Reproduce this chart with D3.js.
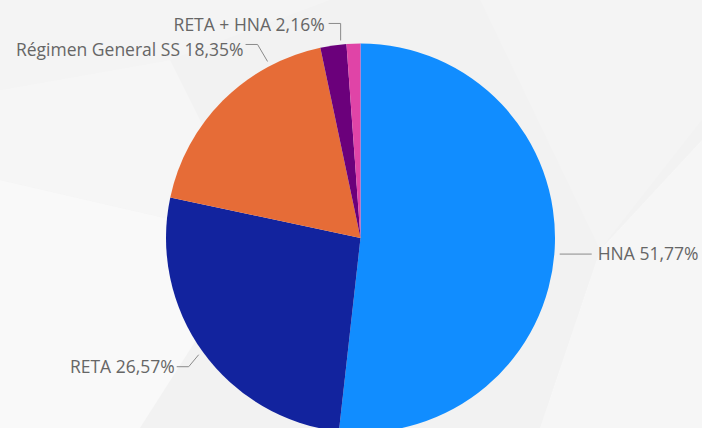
<!DOCTYPE html>
<html><head><meta charset="utf-8">
<script src="https://cdn.jsdelivr.net/npm/d3@7"></script>
<style>html,body{margin:0;padding:0;background:#f2f2f2;overflow:hidden}</style>
</head><body>
<svg id="c" width="702" height="428"></svg>
<script>
const categories = ["HNA", "RETA", "Régimen General SS", "RETA + HNA", "Otros"];
const values = [51.77, 26.57, 18.35, 2.16, 1.15];
const labelTexts = ["HNA 51,77%", "RETA 26,57%", "Régimen General SS 18,35%", "RETA + HNA 2,16%", ""];
const colors = ["#118DFF", "#12239E", "#E66C37", "#6B007B", "#E044A7"];

const W = 702, H = 428;
const svg = d3.select("#c");

// background facets (subtle)
const bg = svg.append("g");
bg.append("rect").attr("width", W).attr("height", H).attr("fill", "#f2f2f2");
const facets = [
  [[0,0],[330,0],[170,60],[0,90]],
  [[0,180],[260,240],[140,428],[0,428]],
  [[480,0],[702,0],[702,120],[600,250]],
  [[600,250],[702,140],[702,428],[540,428]],
  [[0,90],[170,60],[260,240],[0,180]]
];
const fop = [0.2, 0.5, 0.15, 0.35, 0.3];
facets.forEach((p,i)=>bg.append("polygon").attr("points", p.map(q=>q.join(",")).join(" "))
  .attr("fill", "#ffffff").attr("opacity", fop[i]));

const cx = 360.5, cy = 238, r = 194.5;
const pie = d3.pie().sort(null).value(d => d.v);
const data = categories.map((c,i)=>({c, v: values[i], t: labelTexts[i], col: colors[i]}));
const arcs = pie(data);
const arc = d3.arc().innerRadius(0).outerRadius(r);
const g = svg.append("g").attr("transform", `translate(${cx},${cy})`);
g.selectAll("path").data(arcs).join("path").attr("d", arc).attr("fill", d => d.data.col);

// labels
const anchorFrac = [0.5, 0.5, 0.76, 0.5, 0.5];
const font = "'Open Sans', 'Noto Sans', sans-serif";
const lg = svg.append("g");
function pt(a, rr){ return [cx + rr*Math.sin(a), cy - rr*Math.cos(a)]; }
arcs.forEach((d,i)=>{
  if(!d.data.t) return;
  const a = d.startAngle + (d.endAngle - d.startAngle)*anchorFrac[i];
  const p0 = pt(a, r + 5);
  let pts, tx, ty, anchor;
  if (i === 0) { // right
    const y = p0[1] + 5;
    pts = [[p0[0], y], [p0[0] + 32, y]];
    tx = p0[0] + 38; ty = y; anchor = "start";
  } else if (i === 1) { // lower-left
    const p1 = [p0[0] - 10, p0[1] + 12];
    pts = [p0, p1, [p1[0] - 12, p1[1]]];
    tx = p1[0] - 14; ty = p1[1]; anchor = "end";
  } else if (i === 2) {
    const p1 = [p0[0] - 10, p0[1] - 17];
    pts = [p0, p1, [p1[0] - 12, p1[1]]];
    tx = p1[0] - 14; ty = p1[1] + 5; anchor = "end";
  } else if (i === 3) {
    const p1 = [p0[0] + 8, p0[1] - 17];
    pts = [[p1[0], p0[1]], p1, [p1[0] - 12, p1[1]]];
    tx = p1[0] - 16; ty = p1[1] + 1; anchor = "end";
  }
  lg.append("polyline").attr("points", pts.map(q=>q.join(",")).join(" "))
    .attr("fill", "none").attr("stroke", "#8a8a8a").attr("stroke-width", 1);
  lg.append("text").attr("x", tx).attr("y", ty).attr("dy", "0.35em")
    .attr("text-anchor", anchor).attr("font-family", font).attr("font-size", 17.5)
    .attr("fill", "#666666").text(d.data.t);
});
</script>
</body></html>
